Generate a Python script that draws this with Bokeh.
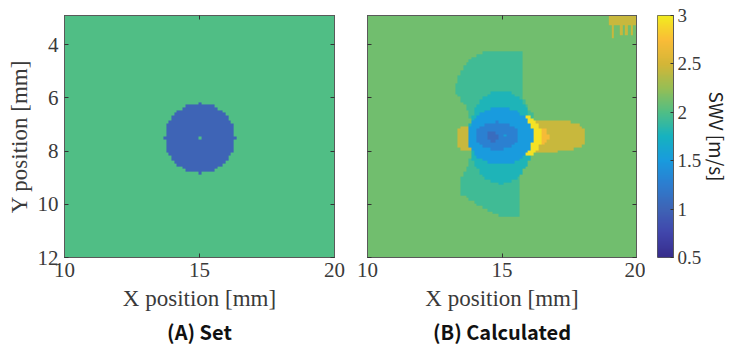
import numpy as np
from bokeh.plotting import figure
from bokeh.layouts import row
from bokeh.models import Range1d, LinearColorMapper, LinearAxis, FixedTicker, Title
from bokeh.embed import file_html
from bokeh.resources import INLINE

# ---- colour scale for shear-wave velocity (m/s) ----
cmap_values = [0.5, 0.75, 1.0, 1.25, 1.5, 1.75, 2.0, 2.25, 2.5, 2.75, 3.0]
cmap_rgb = [(55, 45, 140), (65, 70, 172), (62, 100, 182), (45, 125, 208),
            (25, 155, 222), (22, 178, 192), (80, 190, 133), (150, 190, 85),
            (212, 182, 55), (250, 188, 55), (242, 235, 32)]
swv_low, swv_high = 0.5, 3.0
colorbar_ticks = [0.5, 1, 1.5, 2, 2.5, 3]
colorbar_labels = ["0.5", "1", "1.5", "2", "2.5", "3"]

# ---- sampling grid (mm) ----
grid_step = 0.1
x_nodes = np.round(np.arange(10.0, 20.0 + 1e-6, grid_step), 2)
y_nodes = np.round(np.arange(2.9, 12.0 + 1e-6, grid_step), 2)
x_ticks = [10, 15, 20]
y_ticks = [4, 6, 8, 10, 12]

# ---- (A) set model ----
set_background = 2.0
set_inclusion_cx, set_inclusion_cy = 15.0, 7.5
set_inclusion_r = 1.3
set_inclusion_value = 1.0

# ---- (B) calculated map ----
calc_background = 2.12
calc_fan_value = 1.93
calc_fan_upper_x = [14.45, 13.83, 13.46, 13.30, 13.30, 13.71, 13.95, 15.0, 16.18, 15.75, 15.75]
calc_fan_upper_y = [4.22, 4.48, 4.97, 5.50, 5.80, 6.47, 7.10, 7.5, 6.72, 5.97, 4.22]
calc_fan_lower_x = [15.0, 13.83, 13.46, 13.46, 13.83, 14.45, 15.07, 15.68, 15.68, 16.0]
calc_fan_lower_y = [7.5, 8.22, 9.09, 9.59, 9.84, 10.22, 10.47, 10.40, 8.34, 7.97]
# elliptical patches, painted in this order
calc_patch_cx = [14.95, 16.10, 13.72, 16.42, 15.85, 14.92, 14.80, 14.64, 15.07]
calc_patch_cy = [7.46, 7.42, 7.50, 7.42, 7.42, 7.42, 7.42, 7.44, 7.42]
calc_patch_rx = [1.20, 2.00, 0.38, 0.30, 0.60, 1.21, 0.78, 0.20, 0.05]
calc_patch_ry = [1.75, 0.60, 0.47, 0.30, 0.75, 1.07, 0.52, 0.22, 0.05]
calc_patch_pow = [2, 3, 3, 2, 2, 2, 2, 2, 2]
calc_patch_value = [1.78, 2.45, 2.45, 2.72, 2.95, 1.50, 1.28, 1.08, 1.55]
# corner artefact (top right)
calc_corner_x0, calc_corner_y1, calc_corner_value = 19.0, 3.22, 2.45
calc_corner_teeth_x = [19.1, 19.4, 19.6, 19.8, 20.0]
calc_corner_teeth_y = [3.78, 3.66, 3.60, 3.60, 3.45]


def make_palette(values, rgb, n=256):
    v = np.linspace(values[0], values[-1], n)
    arr = np.array(rgb, dtype=float)
    chans = [np.interp(v, values, arr[:, k]) for k in range(3)]
    return ["#%02x%02x%02x" % tuple(int(round(c[i])) for c in chans) for i in range(n)]


def in_polygon(px, py, vx, vy):
    inside = np.zeros(px.shape, dtype=bool)
    n = len(vx)
    j = n - 1
    for i in range(n):
        xi, yi, xj, yj = vx[i], vy[i], vx[j], vy[j]
        if yi != yj:
            hit = ((yi > py) != (yj > py)) & (px < (xj - xi) * (py - yi) / (yj - yi) + xi)
            inside ^= hit
        j = i
    return inside


XX, YY = np.meshgrid(x_nodes, y_nodes)

# set model field
field_set = np.full(XX.shape, set_background)
dist2 = (XX - set_inclusion_cx) ** 2 + (YY - set_inclusion_cy) ** 2
field_set[dist2 <= set_inclusion_r ** 2 + 1e-9] = set_inclusion_value
field_set[(np.abs(XX - set_inclusion_cx) < 1e-6) & (np.abs(YY - set_inclusion_cy) < 1e-6)] = set_background

# calculated field
field_calc = np.full(XX.shape, calc_background)
field_calc[in_polygon(XX, YY, calc_fan_upper_x, calc_fan_upper_y)] = calc_fan_value
field_calc[in_polygon(XX, YY, calc_fan_lower_x, calc_fan_lower_y)] = calc_fan_value
for cx, cy, rx, ry, pw, val in zip(calc_patch_cx, calc_patch_cy, calc_patch_rx,
                                   calc_patch_ry, calc_patch_pow, calc_patch_value):
    m = (np.abs(XX - cx) / rx) ** pw + (np.abs(YY - cy) / ry) ** pw <= 1.0
    field_calc[m] = val
field_calc[(XX >= calc_corner_x0 - 1e-6) & (YY <= calc_corner_y1)] = calc_corner_value
for tx, ty in zip(calc_corner_teeth_x, calc_corner_teeth_y):
    field_calc[(np.abs(XX - tx) < grid_step / 2) & (YY <= ty)] = calc_corner_value

palette = make_palette(cmap_values, cmap_rgb)
mapper = LinearColorMapper(palette=palette, low=swv_low, high=swv_high)

SERIF = "Liberation Serif"
SANS = "Noto Sans CJK JP"
AX_COL = "#5a5a5a"
TXT_COL = "#3a3a3a"

x0, y0 = x_nodes[0] - grid_step / 2, y_nodes[0] - grid_step / 2
dw = x_nodes[-1] - x_nodes[0] + grid_step
dh = y_nodes[-1] - y_nodes[0] + grid_step


def style_axis(ax, tick_font="21px"):
    ax.major_tick_in = 4
    ax.major_tick_out = 0
    ax.minor_tick_line_color = None
    ax.axis_line_color = AX_COL
    ax.major_tick_line_color = "#333333"
    ax.major_label_text_font = SERIF
    ax.major_label_text_font_size = tick_font
    ax.major_label_text_color = TXT_COL
    ax.axis_label_text_font = SERIF
    ax.axis_label_text_font_size = "23px"
    ax.axis_label_text_font_style = "normal"
    ax.axis_label_text_color = TXT_COL


def tick_only(ax):
    # inward tick marks with no numbers
    ax.major_label_text_color = None
    ax.major_label_text_font_size = "1px"
    ax.major_label_standoff = 0


def map_panel(field, caption, show_y, border_left, frame_w, border_right):
    p = figure(width=border_left + frame_w + border_right, height=349,
               frame_width=frame_w, frame_height=242,
               min_border_left=border_left, min_border_right=border_right,
               min_border_top=15, min_border_bottom=92,
               x_range=Range1d(10, 20), y_range=Range1d(12, 2.9),
               output_backend="svg", toolbar_location=None,
               x_axis_location=None, y_axis_location=None)
    p.image(image=[field], x=x0, y=y0, dw=dw, dh=dh, color_mapper=mapper)
    p.grid.visible = False
    p.outline_line_color = AX_COL
    p.outline_line_width = 1
    p.background_fill_color = "white"
    p.border_fill_color = "white"

    xb = LinearAxis(ticker=FixedTicker(ticks=x_ticks), axis_label="X position [mm]")
    yl = LinearAxis(ticker=FixedTicker(ticks=y_ticks),
                    axis_label="Y position [mm]" if show_y else None)
    xt = LinearAxis(ticker=FixedTicker(ticks=x_ticks))
    yr = LinearAxis(ticker=FixedTicker(ticks=y_ticks))
    for ax in (xb, yl, xt, yr):
        style_axis(ax)
    tick_only(xt)
    tick_only(yr)
    if not show_y:
        tick_only(yl)
    xb.major_label_standoff = 5
    xb.axis_label_standoff = 6
    yl.major_label_standoff = 6
    yl.axis_label_standoff = 3
    p.add_layout(xb, "below")
    p.add_layout(yl, "left")
    p.add_layout(xt, "above")
    p.add_layout(yr, "right")

    cap = Title(text=caption, align="center", text_font=SANS,
                text_font_size="20px", text_font_style="bold",
                text_color="#111111", standoff=3)
    p.add_layout(cap, "below")
    return p


pA = map_panel(field_set, "(A) Set", True, 64, 270, 16)
pB = map_panel(field_calc, "(B) Calculated", False, 17, 269, 9)

# colour bar drawn as its own narrow panel
bar_vals = np.linspace(swv_low, swv_high, 256).reshape(-1, 1)
pC = figure(width=94, height=349, frame_width=16, frame_height=242,
            min_border_left=12, min_border_right=66,
            min_border_top=15, min_border_bottom=92,
            x_range=Range1d(0, 1), y_range=Range1d(swv_low, swv_high),
            output_backend="svg", toolbar_location=None,
            x_axis_location=None, y_axis_location=None)
pC.image(image=[bar_vals], x=0, y=swv_low, dw=1, dh=swv_high - swv_low, color_mapper=mapper)
pC.grid.visible = False
pC.outline_line_color = AX_COL
cb_axis = LinearAxis(ticker=FixedTicker(ticks=colorbar_ticks), axis_label="SWV [m/s]",
                     major_label_overrides={t: s for t, s in zip(colorbar_ticks, colorbar_labels)})
style_axis(cb_axis, tick_font="19px")
cb_axis.major_tick_in = 3
cb_axis.major_label_standoff = 4
cb_axis.axis_label_text_font = SANS
cb_axis.axis_label_text_font_size = "19px"
cb_axis.axis_label_text_color = "#222222"
cb_axis.axis_label_standoff = 0
pC.add_layout(cb_axis, "right")

layout = row(pA, pB, pC, spacing=0)
open("out.html", "w").write(file_html(layout, INLINE))
